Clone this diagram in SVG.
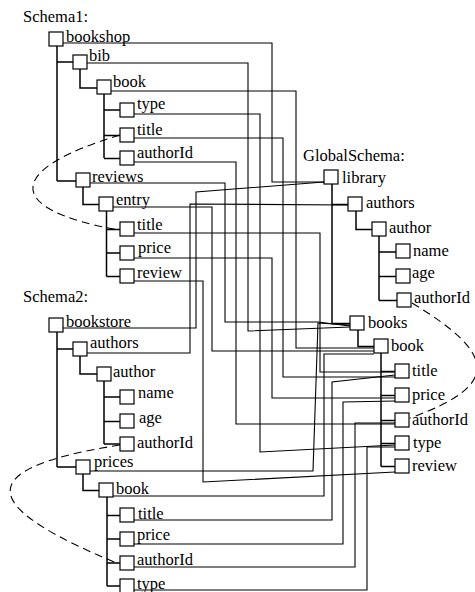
<svg xmlns="http://www.w3.org/2000/svg" width="475" height="592" viewBox="0 0 475 592">
<style>
  .box { fill: #fff; stroke: #000; stroke-width: 1.2; }
  .tree { fill: none; stroke: #000; stroke-width: 1.5; }
  .map { fill: none; stroke: #000; stroke-width: 1.1; }
  .dash { fill: none; stroke: #000; stroke-width: 1.1; stroke-dasharray: 8 5; }
</style>
<rect width="475" height="592" fill="#fff"/>

<g font-family="'Liberation Serif', 'DejaVu Serif', serif" font-size="16.5" fill="#000">
<text x="23" y="22">Schema1:</text>
<text x="23" y="302">Schema2:</text>
<text x="303" y="161">GlobalSchema:</text>
</g>

<g id="connectors">
  <!-- Schema1 tree -->
  <path class="tree" d="M57,46 V181 M57,62 H73 M57,181 H76"/>
  <path class="tree" d="M80,69 V88 H97"/>
  <path class="tree" d="M104,94 V158 M104,110 H120 M104,135.5 H120 M104,158.5 H120"/>
  <path class="tree" d="M83,187 V204.5 H99"/>
  <path class="tree" d="M106.5,211 V276.5 M106.5,229.5 H120 M106.5,253 H120 M106.5,276.5 H120"/>
  <!-- Schema2 tree -->
  <path class="tree" d="M57,332 V467 M57,349 H73 M57,467 H76"/>
  <path class="tree" d="M80,356 V374 H97"/>
  <path class="tree" d="M104,381 V444 M104,397 H120 M104,421.5 H120 M104,444 H120"/>
  <path class="tree" d="M83,474 V490.5 H99"/>
  <path class="tree" d="M107,497 V586 M107,515.5 H120 M107,539 H120 M107,563 H120 M107,586 H120"/>
  <!-- Global tree -->
  <path class="tree" d="M332,184 V323.5 M332,204.5 H348 M332,323.5 H350"/>
  <path class="tree" d="M356,211 V229.5 H372"/>
  <path class="tree" d="M379,236 V300.5 M379,252 H396 M379,276.5 H396 M379,300.5 H397"/>
  <path class="tree" d="M358,330 V346.5 H374"/>
  <path class="tree" d="M381,353 V466.5 M381,371.5 H395 M381,395.5 H395 M381,420.5 H395 M381,443.5 H395 M381,466.5 H395"/>

  <!-- Schema1 mappings -->
  <polyline class="map" points="63,43 272,43 272,182 324,182"/>
  <polyline class="map" points="87,63 248,63 248,331 350,327"/>
  <polyline class="map" points="111,91 296,91 296,348 374,348"/>
  <polyline class="map" points="134,114 260,114 260,452 395,445"/>
  <polyline class="map" points="134,138 283,138 283,377 395,377"/>
  <polyline class="map" points="134,162 236,162 236,424 395,424"/>
  <polyline class="map" points="90,183 225,183 225,322 318,322 350,326"/>
  <polyline class="map" points="113,207 212,207 212,351 374,351"/>
  <polyline class="map" points="134,233 320,233 320,372 395,372"/>
  <polyline class="map" points="134,258 272,258 272,398 395,398"/>
  <polyline class="map" points="134,281 203,281 203,482 395,472"/>
  <!-- Schema2 mappings -->
  <polyline class="map" points="63,328 196,328 196,192 324,182"/>
  <polyline class="map" points="87,353 190,353 190,204 348,205"/>
  <polyline class="map" points="90,471 313,471 318,323 350,325"/>
  <polyline class="map" points="113,496 324,496 324,354 374,354"/>
  <polyline class="map" points="134,520 332,520 332,382 395,375"/>
  <polyline class="map" points="134,544 343,544 343,402 395,401"/>
  <polyline class="map" points="134,567 355,567 355,423 395,423"/>
  <polyline class="map" points="134,590 367,590 367,447 395,447"/>

  <!-- dashed key references -->
  <path class="dash" d="M120,135 C5,169.5 3,209.5 119,230"/>
  <path class="dash" d="M120,445 C-40,470 -12,510 119,564"/>
  <path class="dash" d="M412,303 C495,353 503,385 410,418"/>
</g>

<g font-family="'Liberation Serif', 'DejaVu Serif', serif" font-size="16.5" fill="#000">
<!-- Schema1 nodes -->
<g id="s1-bookshop"><rect class="box" x="49" y="32" width="14" height="14"/><text x="66" y="42">bookshop</text></g>
<g id="s1-bib"><rect class="box" x="73" y="55" width="14" height="14"/><text x="89" y="61">bib</text></g>
<g id="s1-book"><rect class="box" x="97" y="80" width="14" height="14"/><text x="113" y="87">book</text></g>
<g id="s1-book-type"><rect class="box" x="120" y="103" width="14" height="14"/><text x="137" y="109">type</text></g>
<g id="s1-book-title"><rect class="box" x="120" y="128" width="14" height="14"/><text x="137" y="135">title</text></g>
<g id="s1-book-authorId"><rect class="box" x="120" y="151" width="14" height="14"/><text x="137" y="158">authorId</text></g>
<g id="s1-reviews"><rect class="box" x="76" y="173" width="14" height="14"/><text x="92" y="182">reviews</text></g>
<g id="s1-entry"><rect class="box" x="99" y="197" width="14" height="14"/><text x="116" y="205">entry</text></g>
<g id="s1-entry-title"><rect class="box" x="120" y="222" width="14" height="14"/><text x="137" y="230">title</text></g>
<g id="s1-entry-price"><rect class="box" x="120" y="246" width="14" height="14"/><text x="138" y="253">price</text></g>
<g id="s1-entry-review"><rect class="box" x="120" y="269" width="14" height="14"/><text x="137" y="278">review</text></g>

<!-- Schema2 nodes -->
<g id="s2-bookstore"><rect class="box" x="49" y="318" width="14" height="14"/><text x="66" y="327">bookstore</text></g>
<g id="s2-authors"><rect class="box" x="73" y="342" width="14" height="14"/><text x="90" y="348">authors</text></g>
<g id="s2-author"><rect class="box" x="97" y="367" width="14" height="14"/><text x="113" y="377">author</text></g>
<g id="s2-name"><rect class="box" x="120" y="390" width="14" height="14"/><text x="138" y="398">name</text></g>
<g id="s2-age"><rect class="box" x="120" y="414" width="14" height="14"/><text x="139" y="423">age</text></g>
<g id="s2-author-authorId"><rect class="box" x="120" y="437" width="14" height="14"/><text x="137" y="448">authorId</text></g>
<g id="s2-prices"><rect class="box" x="76" y="460" width="14" height="14"/><text x="94" y="467">prices</text></g>
<g id="s2-book"><rect class="box" x="99" y="483" width="14" height="14"/><text x="116" y="494">book</text></g>
<g id="s2-book-title"><rect class="box" x="120" y="508" width="14" height="14"/><text x="138" y="519">title</text></g>
<g id="s2-book-price"><rect class="box" x="120" y="532" width="14" height="14"/><text x="137" y="540">price</text></g>
<g id="s2-book-authorId"><rect class="box" x="120" y="556" width="14" height="14"/><text x="137" y="565">authorId</text></g>
<g id="s2-book-type"><rect class="box" x="120" y="579" width="14" height="14"/><text x="137" y="589">type</text></g>

<!-- Global schema nodes -->
<g id="g-library"><rect class="box" x="324" y="170" width="14" height="14"/><text x="342" y="183">library</text></g>
<g id="g-authors"><rect class="box" x="348" y="197" width="14" height="14"/><text x="366" y="208">authors</text></g>
<g id="g-author"><rect class="box" x="372" y="222" width="14" height="14"/><text x="389" y="233">author</text></g>
<g id="g-name"><rect class="box" x="396" y="244" width="14" height="14"/><text x="413" y="256">name</text></g>
<g id="g-age"><rect class="box" x="396" y="269" width="14" height="14"/><text x="412" y="278">age</text></g>
<g id="g-authorId"><rect class="box" x="397" y="293" width="14" height="14"/><text x="414" y="303">authorId</text></g>
<g id="g-books"><rect class="box" x="350" y="316" width="14" height="14"/><text x="368" y="328">books</text></g>
<g id="g-book"><rect class="box" x="374" y="339" width="14" height="14"/><text x="391" y="351">book</text></g>
<g id="g-title"><rect class="box" x="395" y="364" width="14" height="14"/><text x="412" y="376">title</text></g>
<g id="g-price"><rect class="box" x="395" y="388" width="14" height="14"/><text x="412" y="400">price</text></g>
<g id="g-book-authorId"><rect class="box" x="395" y="413" width="14" height="14"/><text x="412" y="425">authorId</text></g>
<g id="g-type"><rect class="box" x="395" y="436" width="14" height="14"/><text x="413" y="448">type</text></g>
<g id="g-review"><rect class="box" x="395" y="459" width="14" height="14"/><text x="412" y="471">review</text></g>
</g>
</svg>
